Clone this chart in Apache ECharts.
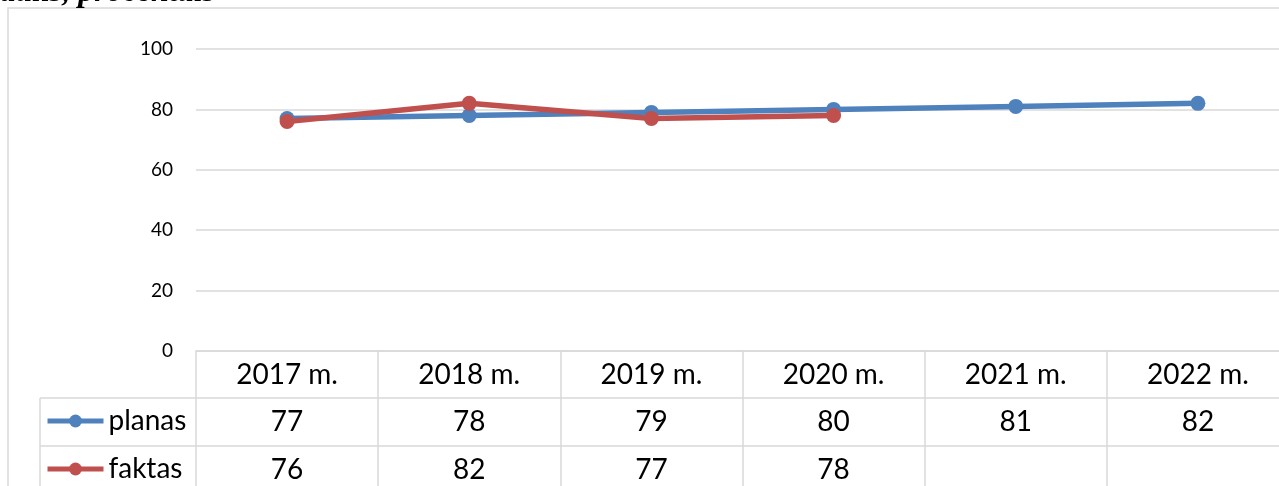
<!DOCTYPE html>
<html lang="lt">
<head>
    <meta charset="UTF-8">
    <title>planas / faktas</title>
    <script src="https://cdn.jsdelivr.net/npm/echarts@6/dist/echarts.min.js"></script>
    <style type="text/css">
        * { margin: 0; padding: 0; }
        html, body { width: 100%; height: 100%; background: #fff; }
        #main { width: 1279px; height: 486px; }
    </style>
</head>
<body>
<div id="main"></div>
<script type="text/javascript">
    // duomenys
    var years = ['2017 m.', '2018 m.', '2019 m.', '2020 m.', '2021 m.', '2022 m.'];
    var planas = [77, 78, 79, 80, 81, 82];
    var faktas = [76, 82, 77, 78, null, null];
    var yTicks = [0, 20, 40, 60, 80, 100];

    var gridColor = '#d9d9d9';
    var tableFont = 'Lato';

    function cellLabels(arr) {
        return arr.map(function (v) { return v == null ? '' : String(v); });
    }

    // viena eilute lenteles po grafiku = viena x asis
    function tableAxis(data, offset, tickLen) {
        return {
            type: 'category',
            data: data,
            position: 'bottom',
            offset: offset,
            boundaryGap: true,
            axisLine: {show: true, lineStyle: {color: gridColor, width: 1.5}},
            axisTick: {show: true, interval: 0, length: tickLen, lineStyle: {color: gridColor, width: 1.5}},
            axisLabel: {
                interval: 0,
                margin: 24,
                verticalAlign: 'middle',
                color: '#000',
                fontFamily: tableFont,
                fontSize: 28
            },
            splitLine: {show: false}
        };
    }

    function legendRow(name, top) {
        return {
            data: [name], left: 45, top: top, padding: 0,
            itemWidth: 56, itemHeight: 16, itemGap: 0,
            lineStyle: {width: 5},
            textStyle: {color: '#000', fontFamily: tableFont, fontSize: 28}
        };
    }

    var myChart = echarts.init(document.getElementById('main'));
    var option = {
        animation: false,
        backgroundColor: '#fff',
        grid: {left: 196, top: 49, width: 1093, height: 302, outerBoundsMode: 'none', containLabel: false},
        legend: [
            legendRow('planas', 407),
            legendRow('faktas', 455)
        ],
        xAxis: [
            tableAxis(years, 0, 47),
            tableAxis(cellLabels(planas), 47, 48),
            tableAxis(cellLabels(faktas), 95, 45)
        ],
        yAxis: {
            type: 'value',
            min: yTicks[0],
            max: yTicks[yTicks.length - 1],
            interval: 20,
            axisLine: {show: false},
            axisTick: {show: false},
            axisLabel: {color: '#000', fontFamily: tableFont, fontSize: 19, margin: 23},
            splitLine: {lineStyle: {color: gridColor, width: 1.5}}
        },
        series: [
            {
                name: 'planas', type: 'line', data: planas, xAxisIndex: 0,
                symbol: 'circle', symbolSize: 15,
                color: '#4f81bd',
                lineStyle: {width: 5.5, color: '#4f81bd'},
                itemStyle: {color: '#4f81bd'}
            },
            {
                name: 'faktas', type: 'line', data: faktas, xAxisIndex: 0,
                symbol: 'circle', symbolSize: 15,
                color: '#c0504d',
                lineStyle: {width: 5.5, color: '#c0504d'},
                itemStyle: {color: '#c0504d'}
            }
        ],
        graphic: [
            {type: 'rect', shape: {x: 8, y: 8, width: 1320, height: 520}, style: {fill: null, stroke: gridColor, lineWidth: 1.5}, z: -1},
            {type: 'line', shape: {x1: 40, y1: 398, x2: 196, y2: 398}, style: {stroke: gridColor, lineWidth: 1.5}},
            {type: 'line', shape: {x1: 40, y1: 446, x2: 196, y2: 446}, style: {stroke: gridColor, lineWidth: 1.5}},
            {type: 'line', shape: {x1: 40, y1: 398, x2: 40, y2: 490}, style: {stroke: gridColor, lineWidth: 1.5}},
            {type: 'text', x: 0, y: 9, style: {text: 'dalis, procentais', fill: '#000', font: 'italic bold 32px "Liberation Serif"', textVerticalAlign: 'bottom'}}
        ]
    };
    myChart.setOption(option);
</script>
</body>
</html>
